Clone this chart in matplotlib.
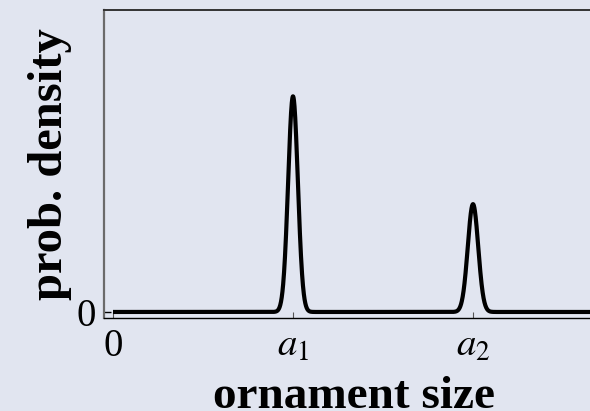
import numpy as np
import matplotlib.pyplot as plt

plt.rcParams['font.family'] = ['Liberation Serif', 'DejaVu Serif']
plt.rcParams['mathtext.fontset'] = 'stix'

# two-peak size distribution: positions, heights, widths
peak_pos = [1.0, 2.0]
peak_height = [1.0, 0.5]
peak_width = [0.027, 0.029]

x_ticks = [0, 1, 2]
x_labels = ['0', r'$a_1$', r'$a_2$']

bg = '#e1e5f0'
fig = plt.figure(figsize=(5.9, 4.11), dpi=100, facecolor=bg)
ax = fig.add_axes([104 / 590, 93 / 411, 500 / 590, 307.5 / 411], facecolor=bg)

x = np.linspace(0, 3, 3000)
y = np.zeros_like(x)
for mu, h, s in zip(peak_pos, peak_height, peak_width):
    y += h * np.exp(-0.5 * ((x - mu) / s) ** 2)

ax.plot(x, y, color='black', lw=3.0, solid_capstyle='butt')

ax.set_xlim(-0.05, (604 - 113) / 180)
ax.set_ylim(-0.028, 1.398)

ax.set_xticks(x_ticks)
ax.set_xticklabels(x_labels, fontsize=28)
ax.set_yticks([0])
ax.set_yticklabels(['0'], fontsize=28)
ax.tick_params(axis='x', direction='in', length=4, width=0.8, color='#555555', pad=7)
ax.tick_params(axis='y', direction='in', length=5, width=1.0, color='black', pad=6)

ax.spines['left'].set_color('#6b6b6b')
ax.spines['left'].set_linewidth(1.6)
ax.spines['top'].set_color('#333333')
ax.spines['top'].set_linewidth(1.4)
ax.spines['bottom'].set_color('black')
ax.spines['bottom'].set_linewidth(1.0)
ax.spines['right'].set_visible(False)

ax.set_xlabel('ornament size', fontsize=34, fontweight='bold', labelpad=8, x=0.5)
ax.set_ylabel('prob. density', fontsize=35, fontweight='bold', labelpad=3)

fig.savefig('out.png', dpi=100, facecolor=bg)
